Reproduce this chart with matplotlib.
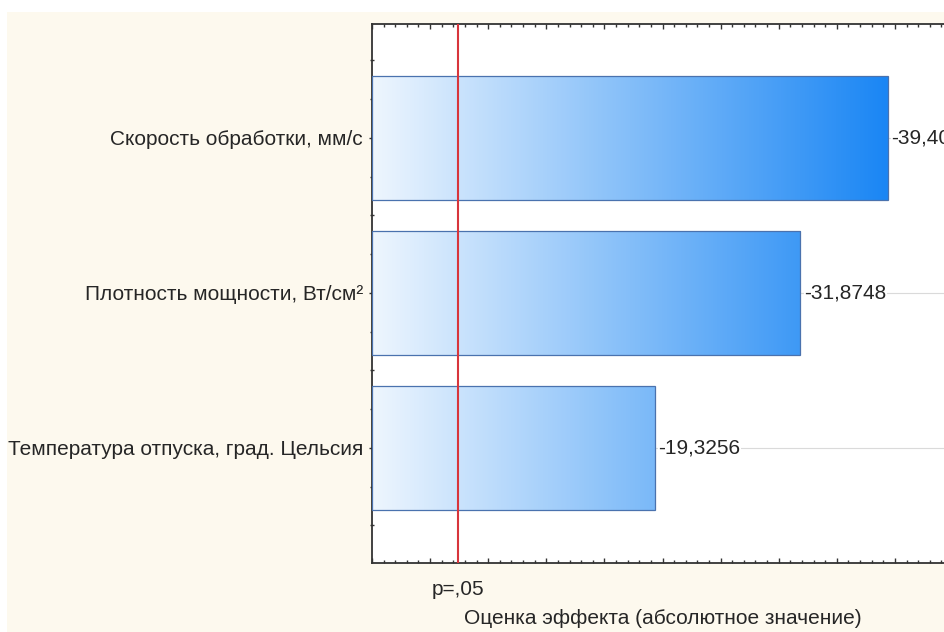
import numpy as np
import matplotlib
matplotlib.use("Agg")
import matplotlib.pyplot as plt
from matplotlib.colors import LinearSegmentedColormap
from matplotlib.patches import Rectangle
from matplotlib.ticker import MultipleLocator, NullFormatter

plt.rcParams['font.family'] = ['Liberation Sans', 'DejaVu Sans']

# Pareto chart of standardized effects
factors = ["Скорость обработки, мм/с",
           "Плотность мощности, Вт/см²",
           "Температура отпуска, град. Цельсия"]
effects = [-39.4031, -31.8748, -19.3256]
p_crit = 2.365          # t critical value, p = .05
x_min, x_max = -5, 45
fs = 15

fig = plt.figure(figsize=(9.45, 6.32), dpi=100, facecolor="white")
# cream panel behind the chart
fig.patches.append(Rectangle((7 / 945, -0.01), 1.1, 1.01 - 12 / 632, transform=fig.transFigure,
                             facecolor="#FDF9EE", edgecolor="none", zorder=-10))

ax = fig.add_axes([372 / 945, 69 / 632, 581 / 945, 539 / 632])
ax.set_facecolor("white")

ypos = np.arange(len(factors))[::-1]
mag = np.abs(effects)

cmap = LinearSegmentedColormap.from_list("bars", ["#EEF6FE", "#1A86F4"])
grad = np.linspace(0, 1, 256).reshape(1, -1)

bars = ax.barh(ypos, mag - x_min, left=x_min, height=0.8, facecolor="none",
               edgecolor="#4A72AE", linewidth=0.9, zorder=3)
for b, y in zip(bars, ypos):
    im = ax.imshow(grad, cmap=cmap, aspect="auto", zorder=2,
                   extent=(x_min, mag.max(), y - 0.4, y + 0.4))
    im.set_clip_path(b)

# faint guide lines at the bar centres
for y in ypos:
    ax.axhline(y, color="#DADADA", linewidth=0.8, zorder=1)

for v, m, y in zip(effects, mag, ypos):
    ax.text(m + 0.3, y, f"{v:.4f}".replace(".", ","), va="center", ha="left",
            fontsize=fs, color="#262626", zorder=4,
            bbox=dict(facecolor="white", edgecolor="none", pad=0.3))

ax.axvline(p_crit, color="#D8353B", linewidth=1.5, zorder=5)
ax.text(p_crit, -0.91, "p=,05", ha="center", va="center", fontsize=fs, color="#262626")

ax.set_xlim(x_min, x_max)
ax.set_ylim(-0.742, 2.735)
ax.set_yticks(ypos)
ax.set_yticklabels(factors, fontsize=fs, color="#262626")
ax.yaxis.set_minor_locator(MultipleLocator(0.25))
ax.xaxis.set_major_locator(MultipleLocator(5))
ax.xaxis.set_minor_locator(MultipleLocator(1))
ax.xaxis.set_major_formatter(NullFormatter())

ax.tick_params(axis="x", which="both", direction="in", top=True, bottom=True,
               color="#333333", width=1)
ax.tick_params(axis="x", which="major", length=3.5)
ax.tick_params(axis="x", which="minor", length=2)
ax.tick_params(axis="y", which="both", direction="inout", color="#333333", width=1)
ax.tick_params(axis="y", which="major", length=5, pad=4)
ax.tick_params(axis="y", which="minor", length=3)

for s in ax.spines.values():
    s.set_color("#333333")
    s.set_linewidth(1.3)

ax.set_xlabel("Оценка эффекта (абсолютное значение)", fontsize=fs, color="#262626")
ax.xaxis.set_label_coords(0.5, -46 / 539)

fig.savefig("out.png", dpi=100, facecolor=fig.get_facecolor())
